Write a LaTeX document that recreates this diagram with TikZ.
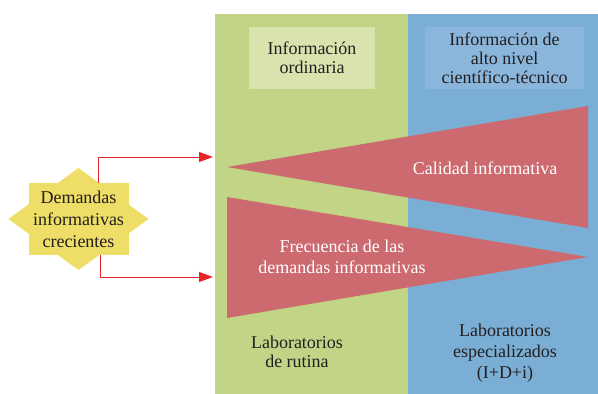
\documentclass[tikz,border=0pt]{standalone}
\usepackage{fontspec}
\setmainfont{Liberation Serif}
\usetikzlibrary{arrows.meta}
\definecolor{rutgreen}{HTML}{C2D586}
\definecolor{rutlight}{HTML}{D8E3AE}
\definecolor{espblue}{HTML}{7BAED4}
\definecolor{esplight}{HTML}{8AB6DC}
\definecolor{wedgered}{HTML}{CC6A70}
\definecolor{staryellow}{HTML}{EEDD66}
\definecolor{arrred}{HTML}{E8242B}
\definecolor{txt}{HTML}{231F20}

\begin{document}
\begin{tikzpicture}[x=1pt, y=-1pt, >={Triangle[length=14pt,width=10pt]}, every node/.style={font=\fontsize{18}{21}\selectfont, align=center, text=txt, inner sep=0pt}]

\useasboundingbox (0,0) rectangle (598,394);

% Panels
\node (rut) [fill=rutgreen, minimum width=193pt, minimum height=380pt, anchor=north west] at (215,14) {};
\node (esp) [fill=espblue, minimum width=190pt, minimum height=380pt, anchor=north west] at (408,14) {};
\node (ord) [fill=rutlight, minimum width=126pt, minimum height=62pt, font=\fontsize{18}{19}\selectfont] at (312,58) {Información\\ordinaria};
\node (alto) [fill=esplight, minimum width=159pt, minimum height=62pt, font=\fontsize{18}{19}\selectfont] at (504.5,58) {Información de\\alto nivel\\científico-técnico};

% Wedges
\fill[wedgered] (227,167) -- (588,106) -- (588,228) -- cycle;
\fill[wedgered] (227,197) -- (588,257) -- (227,318) -- cycle;
\node (cal) [text=white] at (485,168) {Calidad informativa};
\node (frec) [text=white] at (342,257) {Frecuencia de las\\demandas informativas};

% Labels under panels
\node (labr) [font=\fontsize{18}{19}\selectfont] at (297,352) {Laboratorios\\de rutina};
\node (labe) at (505,353) {Laboratorios\\especializados\\(I+D+i)};

% Star
\fill[staryellow] (78.5,219) +(-70,0) -- +(0,-51) -- +(70,0) -- +(0,51) -- cycle;
\node (dem) [fill=staryellow, minimum width=100pt, minimum height=72pt, font=\fontsize{18}{22}\selectfont] at (78.5,219) {Demandas\\informativas\\crecientes};

% Arrows
\coordinate (in1) at (213,157);
\coordinate (in2) at (213,277);
\draw[->, arrred, line width=1pt] ([xshift=20pt]dem.north) |- (in1);
\draw[->, arrred, line width=1pt] ([xshift=22pt]dem.south) |- (in2);

\end{tikzpicture}
\end{document}
